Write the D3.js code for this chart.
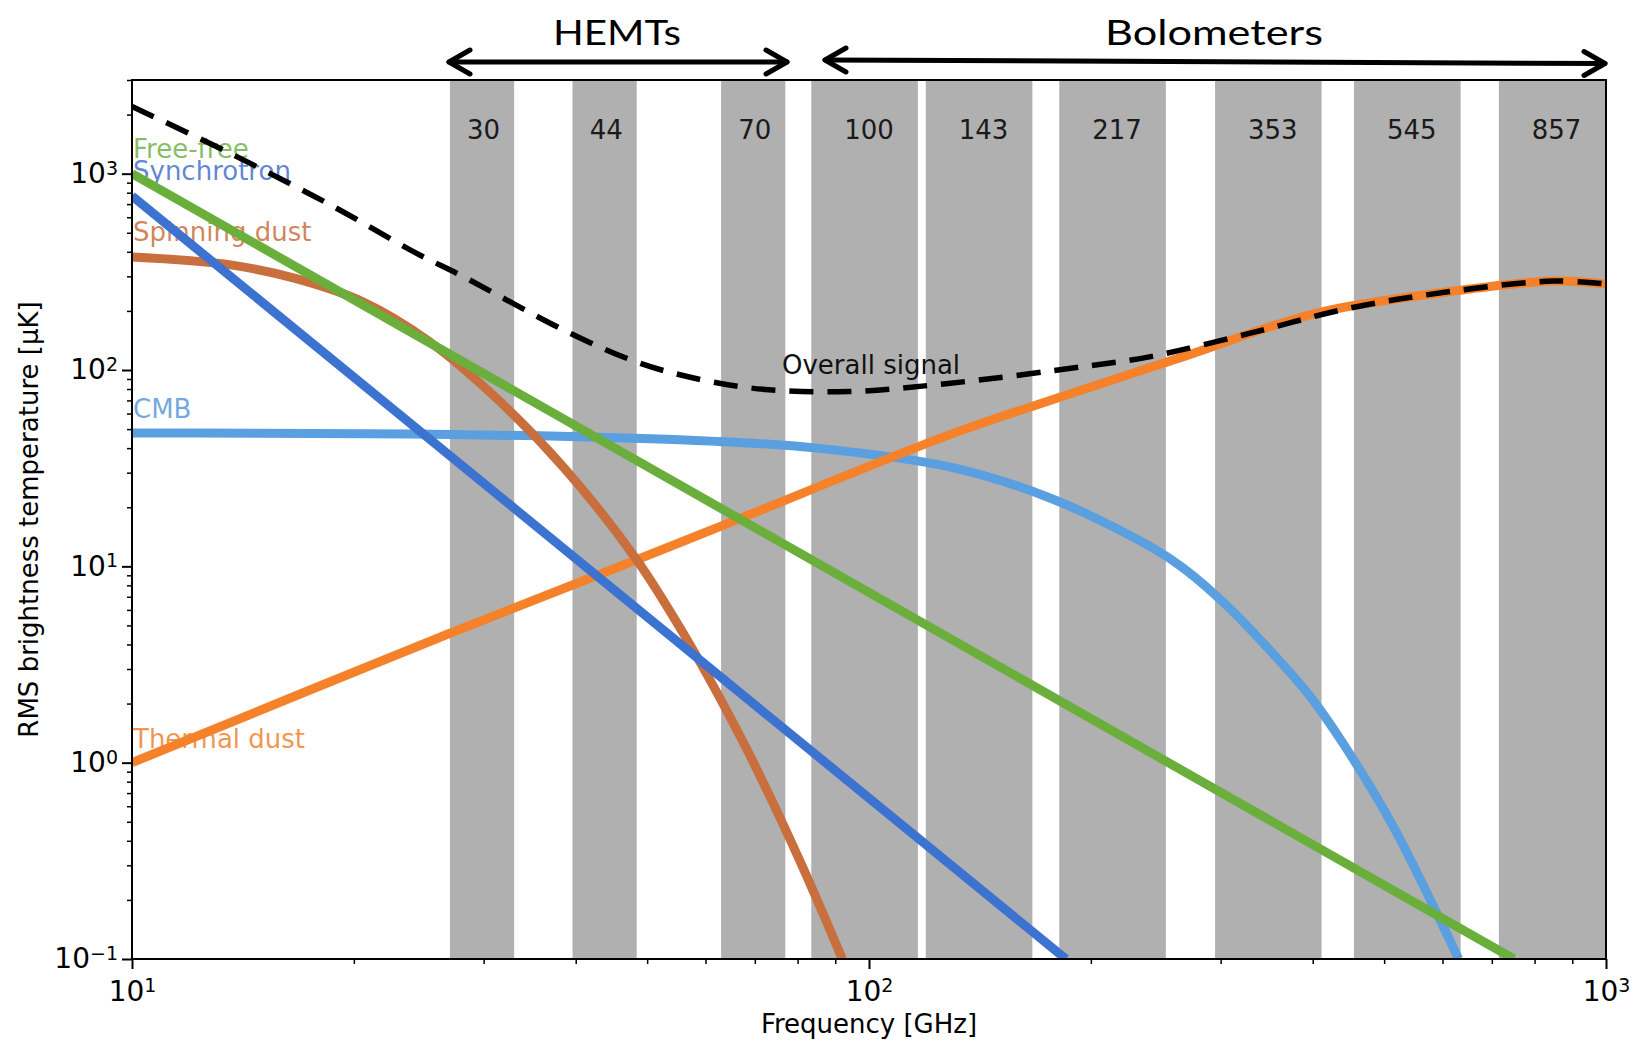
<!DOCTYPE html>
<html>
<head>
<meta charset="utf-8">
<script src="https://cdn.jsdelivr.net/npm/d3@7"></script>
<style>
  body { margin: 0; background: #ffffff; }
  svg { display: block; font-family: "DejaVu Sans", sans-serif; }
</style>
</head>
<body>
<svg id="chart" width="1634" height="1045"></svg>
<script>
// Planck frequency channels (GHz) and the edges of each band
const channels = [30, 44, 70, 100, 143, 217, 353, 545, 857];
const bandLow  = [27, 39.6, 63, 83.5, 119.4, 181.2, 294.8, 455, 715.6];
const bandHigh = [33, 48.4, 77, 116.5, 166.6, 252.8, 411.2, 635, 998.4];

// Major tick values and their exponent labels
const xMajorTicks = [10, 100, 1000];
const xTickExp = ["1", "2", "3"];
const yMajorTicks = [0.1, 1, 10, 100, 1000];
const yTickExp = ["\u22121", "0", "1", "2", "3"];

// RMS brightness temperature [µK] against frequency [GHz]
const synchrotron = [[10, 770], [185, 0.1]];
const freeFree = [[10, 1000], [750, 0.1]];
const spinningDust = [[10, 376], [13.6, 343], [16.7, 292], [20.6, 222], [25.3, 140],
  [31.2, 72], [38.5, 32], [48.4, 10.8], [56, 4.55], [62, 2.32], [69, 1.08],
  [80.6, 0.315], [92, 0.1]];
const cmb = [[10, 47.7], [27, 47], [62, 43.3], [85, 40], [129, 32], [176, 22.3],
  [241, 12.6], [267, 9.8], [306, 6.3], [358, 3.4], [397, 2.17], [440, 1.25],
  [515, 0.47], [602, 0.145], [631, 0.1]];
const thermalDust = [[10, 1.0], [27, 4.56], [48.4, 10.8], [66, 17.2], [129, 47],
  [176, 70], [267, 117], [405, 195], [615, 251], [850, 284], [1000, 274]];
const overall = [[10, 2200], [13.7, 1250], [18.75, 681], [24.3, 394], [28.1, 300],
  [38.5, 160], [47.4, 113], [54.5, 96], [69, 81], [94, 77.7], [129, 85.7],
  [195, 104], [241, 117], [329, 154], [450, 207], [615, 251], [850, 284], [1000, 274]];

const svg = d3.select("#chart");
const W = 1634, H = 1045;
const plot = { left: 132, right: 1606, top: 80, bottom: 959 };

const x = d3.scaleLog().domain([10, 1000]).range([plot.left, plot.right]);
const y = d3.scaleLog().domain([0.1, 3000]).range([plot.bottom, plot.top]);

svg.append("rect").attr("width", W).attr("height", H).attr("fill", "#ffffff");

svg.append("defs").append("clipPath").attr("id", "plot-clip")
  .append("rect")
  .attr("x", plot.left).attr("y", plot.top)
  .attr("width", plot.right - plot.left).attr("height", plot.bottom - plot.top);

// Frequency bands
const bands = svg.append("g").attr("clip-path", "url(#plot-clip)");
bands.selectAll("rect").data(channels).join("rect")
  .attr("x", (d, i) => x(bandLow[i]))
  .attr("width", (d, i) => x(bandHigh[i]) - x(bandLow[i]))
  .attr("y", plot.top)
  .attr("height", plot.bottom - plot.top)
  .attr("fill", "#b0b0b0");

svg.append("g").selectAll("text").data(channels).join("text")
  .attr("x", d => x(d))
  .attr("y", 139)
  .attr("text-anchor", "middle")
  .attr("font-size", 26)
  .attr("fill", "#1a1a1a")
  .text(d => d);

// Component labels, drawn beneath the curves
const labels = [
  { text: "Free-free", color: "#6fb24a", y: 158 },
  { text: "Synchrotron", color: "#4670c8", y: 180 },
  { text: "Spinning dust", color: "#c8703f", y: 241 },
  { text: "CMB", color: "#5b98d8", y: 418 },
  { text: "Thermal dust", color: "#f0822e", y: 748 }
];
svg.append("g").selectAll("text").data(labels).join("text")
  .attr("x", plot.left + 1)
  .attr("y", d => d.y)
  .attr("font-size", 26)
  .attr("fill", d => d.color)
  .attr("fill-opacity", 0.85)
  .text(d => d.text);

svg.append("text")
  .attr("x", 782).attr("y", 374)
  .attr("font-size", 26)
  .attr("fill", "#111")
  .text("Overall signal");

// Curves
const line = d3.line()
  .x(d => x(d[0]))
  .y(d => y(d[1]))
  .curve(d3.curveCatmullRom.alpha(0.5));

const curves = svg.append("g").attr("clip-path", "url(#plot-clip)")
  .attr("fill", "none").attr("stroke-linecap", "butt");

const series = [
  { data: cmb, color: "#5a9fe0" },
  { data: thermalDust, color: "#f5822a" },
  { data: spinningDust, color: "#c96e3d" },
  { data: synchrotron, color: "#3c72d0" },
  { data: freeFree, color: "#6aaf3c" }
];
curves.selectAll("path.component").data(series).join("path")
  .attr("class", "component")
  .attr("d", d => line(d.data))
  .attr("stroke", d => d.color)
  .attr("stroke-width", 9);

curves.append("path")
  .attr("d", line(overall))
  .attr("stroke", "#000")
  .attr("stroke-width", 5.5)
  .attr("stroke-dasharray", "24,14");

// Axes
const xMinor = x.ticks().filter(v => !xMajorTicks.includes(v));
const yMinor = y.ticks().filter(v => !yMajorTicks.some(m => Math.abs(m - v) < 1e-9));

function styleAxis(g) {
  g.select(".domain").remove();
  g.selectAll("line").attr("stroke", "#000").attr("stroke-width", 2);
}

svg.append("g")
  .attr("transform", `translate(0,${plot.bottom})`)
  .call(d3.axisBottom(x).tickValues(xMinor).tickSize(5).tickFormat(""))
  .call(styleAxis)
  .selectAll("line").attr("stroke-width", 1.5);

svg.append("g")
  .attr("transform", `translate(${plot.left},0)`)
  .call(d3.axisLeft(y).tickValues(yMinor).tickSize(5).tickFormat(""))
  .call(styleAxis)
  .selectAll("line").attr("stroke-width", 1.5);

function powerLabel(sel, exps) {
  sel.each(function (d, i) {
    const t = d3.select(this);
    t.text(null).attr("font-size", 28).attr("fill", "#000")
      .attr("font-family", "DejaVu Sans, sans-serif");
    t.append("tspan").text("10");
    t.append("tspan").attr("dy", "-0.45em").attr("font-size", 19).text(exps[i]);
  });
}

const xAxisG = svg.append("g")
  .attr("transform", `translate(0,${plot.bottom})`)
  .call(d3.axisBottom(x).tickValues(xMajorTicks).tickSize(10).tickPadding(12).tickFormat(""))
  .call(styleAxis);
xAxisG.selectAll(".tick text").call(powerLabel, xTickExp);

const yAxisG = svg.append("g")
  .attr("transform", `translate(${plot.left},0)`)
  .call(d3.axisLeft(y).tickValues(yMajorTicks).tickSize(10).tickPadding(4).tickFormat(""))
  .call(styleAxis);
yAxisG.selectAll(".tick text").call(powerLabel, yTickExp);

// Frame
svg.append("rect")
  .attr("x", plot.left).attr("y", plot.top)
  .attr("width", plot.right - plot.left).attr("height", plot.bottom - plot.top)
  .attr("fill", "none").attr("stroke", "#000").attr("stroke-width", 2);

// Axis titles
svg.append("text")
  .attr("x", x(100)).attr("y", 1033)
  .attr("text-anchor", "middle")
  .attr("font-size", 26)
  .text("Frequency [GHz]");

svg.append("text")
  .attr("transform", `translate(38,${(plot.top + plot.bottom) / 2}) rotate(-90)`)
  .attr("text-anchor", "middle")
  .attr("font-size", 26)
  .text("RMS brightness temperature [\u00b5K]");

// Detector technology ranges
const ranges = [
  { name: "HEMTs", from: [449, 62], to: [787, 62], cx: 617, width: 128 },
  { name: "Bolometers", from: [825, 60], to: [1605, 63.5], cx: 1214, width: 218 }
];
const arrows = svg.append("g")
  .attr("stroke", "#000").attr("stroke-width", 5)
  .attr("fill", "none").attr("stroke-linecap", "round").attr("stroke-linejoin", "round");
ranges.forEach(r => {
  arrows.append("line")
    .attr("x1", r.from[0]).attr("y1", r.from[1])
    .attr("x2", r.to[0]).attr("y2", r.to[1]);
  arrows.append("path")
    .attr("d", `M${r.from[0] + 21},${r.from[1] - 12}L${r.from[0]},${r.from[1]}L${r.from[0] + 21},${r.from[1] + 12}`);
  arrows.append("path")
    .attr("d", `M${r.to[0] - 21},${r.to[1] - 12}L${r.to[0]},${r.to[1]}L${r.to[0] - 21},${r.to[1] + 12}`);
  svg.append("text")
    .attr("x", r.cx).attr("y", 45)
    .attr("text-anchor", "middle")
    .attr("font-family", "Lato, 'Open Sans', sans-serif")
    .attr("font-size", 34)
    .attr("fill", "#000")
    .attr("textLength", r.width)
    .attr("lengthAdjust", "spacingAndGlyphs")
    .text(r.name);
});
</script>
</body>
</html>
